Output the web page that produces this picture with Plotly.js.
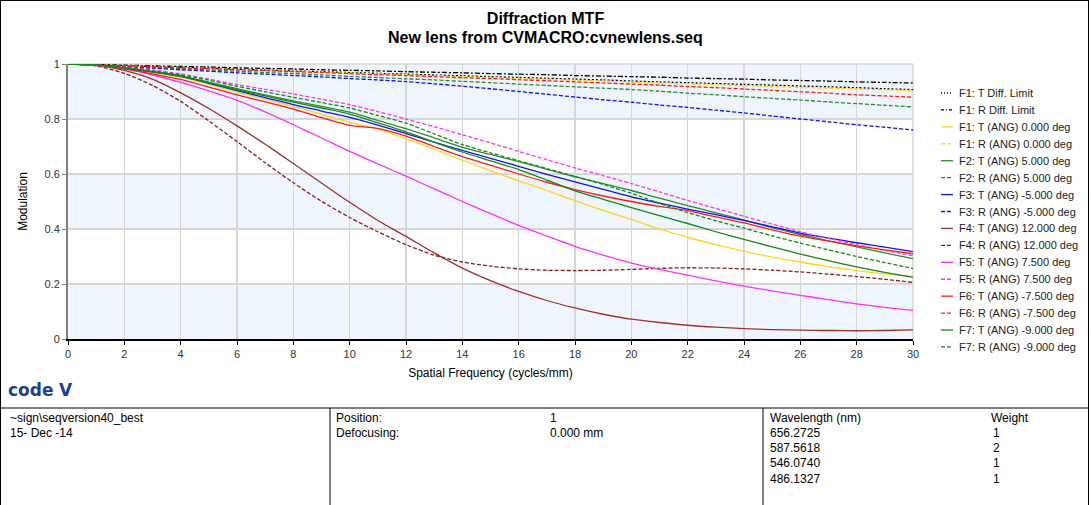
<!DOCTYPE html>
<html><head><meta charset="utf-8">
<script src="https://cdn.plot.ly/plotly-3.0.1.min.js"></script>
<style>html,body{margin:0;padding:0;background:#fff}#chart{width:1091px;height:505px}</style>
</head><body><div id="chart"></div>
<script>
// ---- data ----
const freq = [0,1,2,3,4,5,6,7,8,9,10,11,12,13,14,15,16,17,18,19,20,21,22,23,24,25,26,27,28,29,30];

const diffT = [1,.997,.994,.991,.988,.985,.981,.978,.975,.972,.969,.966,.963,.960,.957,.954,.951,.948,.945,.942,.938,.935,.932,.929,.926,.923,.920,.917,.914,.910,.907];
const diffR = [1,.998,.996,.993,.991,.989,.986,.984,.982,.979,.977,.975,.972,.970,.968,.965,.963,.961,.958,.956,.954,.952,.949,.947,.945,.942,.940,.938,.935,.933,.931];
const f1T = [1,.997,.984,.969,.952,.926,.898,.872,.846,.818,.788,.763,.728,.69,.65,.612,.575,.54,.503,.468,.435,.40,.37,.343,.319,.298,.28,.263,.249,.237,.228];
const f1R = [1,.997,.994,.990,.987,.984,.980,.977,.974,.970,.967,.964,.961,.957,.954,.951,.947,.944,.941,.938,.934,.931,.928,.925,.921,.918,.915,.912,.909,.906,.903];
const f2T = [1,.997,.986,.973,.957,.934,.91,.888,.866,.846,.825,.795,.765,.731,.697,.671,.645,.617,.59,.565,.54,.512,.485,.459,.432,.405,.38,.357,.335,.313,.292];
const f2R = [1,.996,.992,.987,.983,.978,.974,.969,.965,.960,.955,.951,.946,.942,.937,.932,.927,.922,.917,.912,.907,.901,.894,.888,.881,.875,.869,.862,.856,.850,.844];
const f3T = [1,.997,.985,.971,.955,.93,.903,.878,.852,.829,.806,.778,.747,.716,.686,.657,.628,.599,.571,.544,.517,.494,.472,.452,.431,.408,.385,.367,.35,.334,.318];
const f3R = [1,.996,.991,.985,.979,.974,.968,.963,.958,.953,.947,.942,.936,.928,.919,.910,.900,.890,.880,.870,.861,.851,.842,.832,.822,.811,.800,.790,.779,.770,.760];
const f4T = [1,.995,.977,.945,.895,.838,.775,.708,.638,.567,.497,.431,.373,.313,.258,.212,.173,.14,.113,.09,.072,.06,.05,.043,.038,.034,.032,.031,.030,.031,.033];
const f4R = [1,.993,.966,.922,.864,.793,.718,.641,.568,.501,.442,.39,.343,.305,.28,.265,.255,.25,.249,.25,.253,.257,.259,.258,.255,.25,.244,.236,.227,.217,.206];
const f5T = [1,.995,.982,.96,.933,.902,.868,.826,.779,.731,.682,.637,.592,.546,.50,.456,.413,.374,.337,.305,.276,.253,.232,.211,.192,.175,.159,.143,.128,.115,.104];
const f5R = [1,.998,.99,.978,.964,.945,.925,.908,.891,.872,.852,.827,.80,.772,.743,.713,.682,.652,.622,.594,.565,.535,.504,.475,.446,.418,.39,.366,.343,.322,.303];
const f6T = [1,.996,.982,.964,.944,.916,.888,.862,.836,.805,.777,.766,.738,.70,.663,.632,.60,.57,.543,.52,.50,.482,.467,.444,.422,.397,.374,.356,.339,.324,.31];
const f6R = [1,.997,.993,.990,.986,.983,.979,.976,.972,.969,.965,.961,.958,.954,.950,.947,.943,.939,.935,.931,.927,.923,.918,.914,.909,.904,.899,.894,.888,.884,.879];
const f7T = [1,.997,.985,.971,.955,.931,.906,.884,.861,.84,.818,.786,.753,.716,.68,.648,.616,.578,.539,.508,.478,.449,.42,.39,.362,.335,.309,.285,.262,.242,.224];
const f7R = [1,.998,.988,.975,.961,.941,.919,.899,.879,.86,.84,.813,.785,.746,.707,.677,.648,.62,.591,.562,.53,.493,.46,.43,.403,.375,.349,.324,.30,.278,.256];

const seriesNames = ["F1: T Diff. Limit","F1: R Diff. Limit",
  "F1: T (ANG) 0.000 deg","F1: R (ANG) 0.000 deg",
  "F2: T (ANG) 5.000 deg","F2: R (ANG) 5.000 deg",
  "F3: T (ANG) -5.000 deg","F3: R (ANG) -5.000 deg",
  "F4: T (ANG) 12.000 deg","F4: R (ANG) 12.000 deg",
  "F5: T (ANG) 7.500 deg","F5: R (ANG) 7.500 deg",
  "F6: T (ANG) -7.500 deg","F6: R (ANG) -7.500 deg",
  "F7: T (ANG) -9.000 deg","F7: R (ANG) -9.000 deg"];
const seriesValues = [diffT,diffR,f1T,f1R,f2T,f2R,f3T,f3R,f4T,f4R,f5T,f5R,f6T,f6R,f7T,f7R];

const titleMain = "Diffraction MTF";
const titleSub = "New lens from CVMACRO:cvnewlens.seq";
const wavelengths = ["656.2725","587.5618","546.0740","486.1327"];
const weights = ["1","2","1","1"];
const xTicks = [0,2,4,6,8,10,12,14,16,18,20,22,24,26,28,30];
const yTicks = [0,0.2,0.4,0.6,0.8,1];

// ---- styles ----
const colors = ["#000000","#000000","#FFD21F","#FFD21F","#2E8B2E","#2E8B2E","#1010FF","#1010FF",
  "#A0302E","#8E1C1C","#FF2EFF","#FF2EFF","#FF1A1A","#FF1A1A","#138A13","#138A13"];
const kinds = ["dot","dashdot","solid","dash","solid","dash","solid","dash","solid","dash","solid","dash","solid","dash","solid","dash"];
const plotDash = {solid:"solid", dash:"4px,2px", dot:"2px,2px", dashdot:"5px,2px,2px,2px"};
const legDash = {solid:"solid", dash:"4px,2px", dot:"1px,2px", dashdot:"3px,2px,1px,2px"};

const FONT = "Liberation Sans, Arial, sans-serif";
const W=1091,H=505,L=68,R=913,T=64,B=339;
const px = x => (x-L)/(R-L);
const py = y => (B-y)/(B-T);

const traces = seriesValues.map((s,i)=>({
  x:freq, y:s, type:"scatter", mode:"lines", name:seriesNames[i], showlegend:false,
  hoverinfo:"skip",
  line:{color:colors[i], width:1.3, dash:plotDash[kinds[i]], shape:"spline", smoothing:0.7}
}));

const shapes = [];
// alternating background bands
[[0,0.2],[0.4,0.6],[0.8,1]].forEach(b=>shapes.push({type:"rect",xref:"paper",yref:"y",x0:0,x1:1,y0:b[0],y1:b[1],
  fillcolor:"#EEF5FD",line:{width:0},layer:"below"}));
// top/right light border of the plot area
shapes.push({type:"line",xref:"paper",yref:"paper",x0:0,x1:1,y0:1,y1:1,line:{color:"#D6D6D6",width:1.5},layer:"below"});
shapes.push({type:"line",xref:"paper",yref:"paper",x0:1,x1:1,y0:0,y1:1,line:{color:"#D6D6D6",width:1.5},layer:"below"});
// outer frame and info table
const blk = {color:"#000",width:1};
shapes.push({type:"line",xref:"paper",yref:"paper",x0:px(0.5),x1:px(0.5),y0:py(0),y1:py(505),line:blk});
shapes.push({type:"line",xref:"paper",yref:"paper",x0:px(1088.5),x1:px(1088.5),y0:py(0),y1:py(505),line:blk});
shapes.push({type:"line",xref:"paper",yref:"paper",x0:px(0),x1:px(1089),y0:py(0.5),y1:py(0.5),line:blk});
shapes.push({type:"line",xref:"paper",yref:"paper",x0:px(0),x1:px(1089),y0:py(408),y1:py(408),line:blk});
shapes.push({type:"line",xref:"paper",yref:"paper",x0:px(330),x1:px(330),y0:py(408),y1:py(505),line:blk});
shapes.push({type:"line",xref:"paper",yref:"paper",x0:px(763),x1:px(763),y0:py(408),y1:py(505),line:blk});

const annotations = [];
// second title line
annotations.push({xref:"paper",yref:"paper",x:px(545.5),y:py(37),xanchor:"center",yanchor:"middle",showarrow:false,
  text:"<b>"+titleSub+"</b>",font:{family:FONT,size:16,color:"#000"}});
// manual legend
seriesNames.forEach((n,i)=>{
  const yy = 93 + 16.93*i;
  shapes.push({type:"line",xref:"paper",yref:"paper",x0:px(941),x1:px(953),y0:py(yy),y1:py(yy),
    line:{color:colors[i],width:1.3,dash:legDash[kinds[i]]}});
  annotations.push({xref:"paper",yref:"paper",x:px(957),y:py(yy),xanchor:"left",yanchor:"middle",showarrow:false,
    text:n,font:{family:FONT,size:11,color:"#222"}});
});
const tf = {family:FONT,size:12,color:"#000"};
function txt(x,y,t){annotations.push({xref:"paper",yref:"paper",x:px(x),y:py(y),xanchor:"left",yanchor:"middle",showarrow:false,text:t,font:tf});}
txt(8,418,"~sign\\seqversion40_best");
txt(8,433,"15- Dec -14");
txt(334,418,"Position:");
txt(334,433,"Defocusing:");
txt(548,418,"1");
txt(548,433,"0.000 mm");
txt(768,418,"Wavelength (nm)");
txt(989,418,"Weight");
wavelengths.forEach((w,i)=>{txt(768,433+15.2*(i),w); txt(991,433+15.2*i,weights[i]);});
// logo
annotations.push({xref:"paper",yref:"paper",x:px(6),y:py(390),xanchor:"left",yanchor:"middle",showarrow:false,
  text:"<b>code</b> <b>V</b>",font:{family:"DejaVu Sans, sans-serif",size:17,color:"#1C3F94"}});

const layout = {
  width:W, height:H, margin:{l:L,r:W-R,t:T,b:H-B,pad:0},
  paper_bgcolor:"#fff", plot_bgcolor:"#fff", showlegend:false,
  font:{family:FONT,color:"#000"},
  title:{text:"<b>"+titleMain+"</b>",
    xref:"container",x:0.5,yref:"container",y:1-18/H,yanchor:"middle",
    font:{family:FONT,size:16,color:"#000"}},
  xaxis:{range:[0,30],tickvals:xTicks,showgrid:true,gridcolor:"#D6D6D6",gridwidth:1.5,zeroline:false,
    showline:true,linecolor:"#000",linewidth:1.5,ticks:"outside",ticklen:4,tickcolor:"#000",
    tickfont:{family:FONT,size:11,color:"#333"},
    title:{text:"Spatial Frequency (cycles/mm)",font:{family:FONT,size:12,color:"#000"},standoff:10}},
  yaxis:{range:[0,1],tickvals:yTicks,showgrid:true,gridcolor:"#D6D6D6",gridwidth:1.5,zeroline:false,
    showline:true,linecolor:"#808080",linewidth:2,ticks:"outside",ticklen:4,tickcolor:"#808080",
    tickfont:{family:FONT,size:11,color:"#333"},
    title:{text:"Modulation",font:{family:FONT,size:12,color:"#000"},standoff:14}},
  shapes:shapes, annotations:annotations
};
Plotly.newPlot("chart", traces, layout, {staticPlot:true, displayModeBar:false});
</script></body></html>
